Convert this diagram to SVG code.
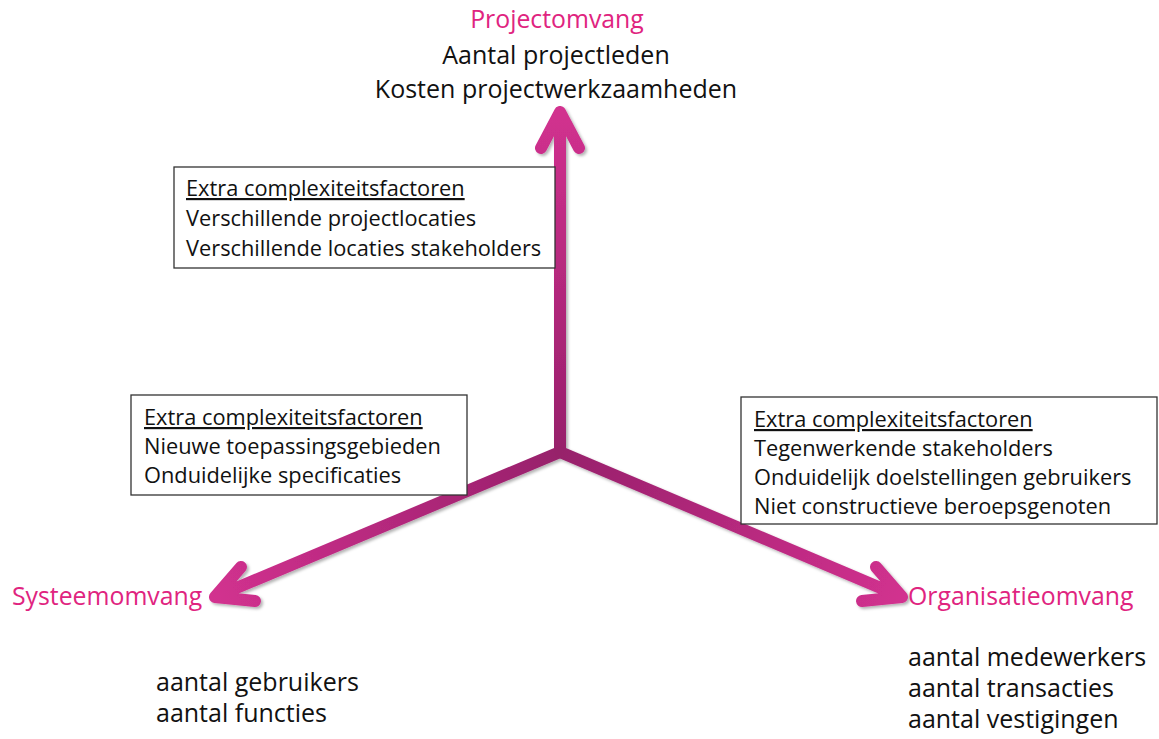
<svg xmlns="http://www.w3.org/2000/svg" width="1159" height="739" viewBox="0 0 1159 739">
<defs>
<style>
.t{font-family:"Open Sans","Noto Sans",sans-serif;fill:#111;font-size:25px}
.b{font-family:"Open Sans","Noto Sans",sans-serif;fill:#111;font-size:21.8px}
.h{font-family:"Open Sans","Noto Sans",sans-serif;fill:#e0247f;font-size:24.8px}
.box{fill:#fff;stroke:#333;stroke-width:1.3}
.ax{fill:none;stroke-width:12;stroke-linecap:round;stroke-linejoin:round}
</style>
<linearGradient id="gU" gradientUnits="userSpaceOnUse" x1="560" y1="452" x2="560" y2="108"><stop offset="0" stop-color="#97206b"/><stop offset="1" stop-color="#d2318f"/></linearGradient>
<linearGradient id="gL" gradientUnits="userSpaceOnUse" x1="560" y1="452" x2="212" y2="598"><stop offset="0" stop-color="#97206b"/><stop offset="1" stop-color="#d2318f"/></linearGradient>
<linearGradient id="gR" gradientUnits="userSpaceOnUse" x1="560" y1="452" x2="905" y2="598"><stop offset="0" stop-color="#97206b"/><stop offset="1" stop-color="#d2318f"/></linearGradient>
<filter id="sh" x="-10%" y="-10%" width="120%" height="120%"><feDropShadow dx="2" dy="2" stdDeviation="1.5" flood-color="#000" flood-opacity="0.3"/></filter>
</defs>
<rect width="1159" height="739" fill="#fff"/>
<g id="connectors" filter="url(#sh)">
<path class="ax" stroke="url(#gU)" d="M560,452 L560,112 M541,148 L560,112 L579,148"/>
<path class="ax" stroke="url(#gL)" d="M560,452 L215,597 M241,567 L215,597 L255,601"/>
<path class="ax" stroke="url(#gR)" d="M560,452 L902,597 M862,601 L902,597 L876,567"/>
</g>
<g id="box-project">
<rect class="box" x="174" y="167" width="381" height="101"/>
<text class="b" x="186" y="196" text-decoration="underline">Extra complexiteitsfactoren</text>
<text class="b" x="186" y="226">Verschillende projectlocaties</text>
<text class="b" x="186" y="256">Verschillende locaties stakeholders</text>
</g>
<g id="box-systeem">
<rect class="box" x="131" y="395" width="336" height="100"/>
<text class="b" x="144" y="425" text-decoration="underline">Extra complexiteitsfactoren</text>
<text class="b" x="144" y="454">Nieuwe toepassingsgebieden</text>
<text class="b" x="144" y="483">Onduidelijke specificaties</text>
</g>
<g id="box-organisatie">
<rect class="box" x="741" y="397" width="416" height="127"/>
<text class="b" x="754" y="427" text-decoration="underline">Extra complexiteitsfactoren</text>
<text class="b" x="754" y="456">Tegenwerkende stakeholders</text>
<text class="b" x="754" y="485">Onduidelijk doelstellingen gebruikers</text>
<text class="b" x="754" y="514">Niet constructieve beroepsgenoten</text>
</g>
<g id="projectomvang">
<text class="h" x="557" y="28" text-anchor="middle">Projectomvang</text>
<text class="t" x="556" y="64" text-anchor="middle">Aantal projectleden</text>
<text class="t" x="556" y="98" text-anchor="middle">Kosten projectwerkzaamheden</text>
</g>
<g id="systeemomvang">
<text class="h" x="12" y="605">Systeemomvang</text>
<text class="t" x="156" y="691">aantal gebruikers</text>
<text class="t" x="156" y="722">aantal functies</text>
</g>
<g id="organisatieomvang">
<text class="h" x="908" y="605">Organisatieomvang</text>
<text class="t" x="908" y="666">aantal medewerkers</text>
<text class="t" x="908" y="697">aantal transacties</text>
<text class="t" x="908" y="728">aantal vestigingen</text>
</g>
</svg>
